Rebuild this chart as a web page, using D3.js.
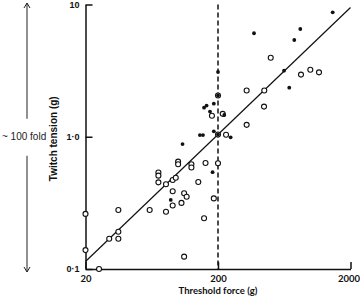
<!DOCTYPE html>
<html><head><meta charset="utf-8">
<script src="https://cdn.jsdelivr.net/npm/d3@7"></script>
<style>html,body{margin:0;padding:0;background:#fff;}svg{display:block;}</style>
</head><body>
<svg id="c" width="360" height="296"></svg>
<script>
// ---- data ----
const filledX = [1468, 374, 836, 753, 630, 690, 200, 186, 157, 164, 174, 146, 154, 186, 200, 249, 108, 182, 88, 200, 223];
const filledY = [8.73, 6.06, 6.53, 5.39, 3.16, 2.35, 3.09, 1.78, 1.66, 1.72, 1.55, 1.03, 1.03, 1.10, 1.04, 0.99, 0.88, 0.54, 0.333, 2.05, 1.46];
const openX = [500, 846, 995, 1157, 329, 447, 445, 329, 180, 217, 200, 200, 230, 100, 100, 126, 126, 161, 200, 142, 186, 71, 71, 71, 81, 91, 96, 91, 111, 116, 91, 106, 81, 157, 61, 35.4, 20, 35.4, 30.2, 35.4, 20, 25.3, 111];
const openY = [3.96, 2.95, 3.21, 3.07, 2.24, 2.24, 1.69, 1.23, 1.44, 1.49, 2.05, 1.04, 1.035, 0.648, 0.619, 0.619, 0.585, 0.633, 0.630, 0.455, 0.342, 0.537, 0.508, 0.452, 0.437, 0.471, 0.490, 0.387, 0.374, 0.352, 0.302, 0.316, 0.271, 0.242, 0.279, 0.279, 0.261, 0.1915, 0.1694, 0.1694, 0.139, 0.1, 0.124];
const fitX = [20, 2000];
const fitY = [0.114, 9.5];
const thresholdLine = 200;
const xTicks = [20, 200, 2000];
const xTickLabels = ["20", "200", "2000"];
const yTicks = [0.1, 1, 10];
const yTickLabels = ["0·1", "1·0", "10"];
const xTitle = "Threshold force (g)";
const yTitle = "Twitch tension (g)";
const foldLabel = "~ 100 fold";

// ---- chart ----
(function () {
const svg = d3.select("#c");
const x = d3.scaleLog().domain([20, 2000]).range([85.5, 350.5]);
const y = d3.scaleLog().domain([0.1, 10]).range([269, 4.5]);
const ink = "#111";

const yAxis = d3.axisLeft(y).tickValues(yTicks).tickSize(-7).tickSizeOuter(0).tickPadding(6)
  .tickFormat((d, i) => yTickLabels[i]);
const gy = svg.append("g").attr("transform", "translate(85.5,0)").call(yAxis);
gy.select(".domain").attr("stroke", ink).attr("stroke-width", 1.5);
gy.selectAll(".tick line").attr("stroke", ink).attr("stroke-width", 1.5);
gy.selectAll(".tick text").attr("fill", ink).style("font-family", "'Liberation Sans', Arial, sans-serif")
  .style("font-weight", "bold").style("font-size", "9px");

const xAxis = d3.axisBottom(x).tickValues(xTicks).tickSize(-7).tickSizeOuter(0).tickPadding(6)
  .tickFormat((d, i) => xTickLabels[i]);
const gx = svg.append("g").attr("transform", "translate(0,269)").call(xAxis);
gx.select(".domain").attr("stroke", ink).attr("stroke-width", 1.5);
gx.selectAll(".tick line").attr("stroke", ink).attr("stroke-width", 1.5);
gx.selectAll(".tick text").attr("fill", ink).style("font-family", "Lato, 'Open Sans', sans-serif")
  .style("font-weight", "bold").style("font-size", "9.5px");
// keep the last label inside the picture
gx.selectAll(".tick text").filter((d, i) => i === xTicks.length - 1)
  .attr("text-anchor", "end").attr("x", 9);

// dashed threshold line
svg.append("line")
  .attr("x1", x(thresholdLine)).attr("x2", x(thresholdLine))
  .attr("y1", y(10)).attr("y2", y(0.1))
  .attr("stroke", ink).attr("stroke-width", 1.5).attr("stroke-dasharray", "5,3");

// regression line
svg.append("line")
  .attr("x1", x(fitX[0])).attr("y1", y(fitY[0]))
  .attr("x2", x(fitX[1])).attr("y2", y(fitY[1]))
  .attr("stroke", ink).attr("stroke-width", 1.2);

// open circles
svg.append("g").selectAll("circle").data(openX.map((d, i) => [d, openY[i]])).join("circle")
  .attr("cx", d => x(d[0])).attr("cy", d => y(d[1])).attr("r", 2.5)
  .attr("fill", "#fff").attr("stroke", ink).attr("stroke-width", 1.1);

// filled dots
svg.append("g").selectAll("circle").data(filledX.map((d, i) => [d, filledY[i]])).join("circle")
  .attr("cx", d => x(d[0])).attr("cy", d => y(d[1])).attr("r", 1.9)
  .attr("fill", ink);

// axis titles
svg.append("text").attr("x", x(200)).attr("y", 293.5).attr("text-anchor", "middle")
  .style("font-family", "Lato, 'Open Sans', sans-serif").style("font-weight", "bold").style("font-size", "9.5px")
  .attr("fill", ink).text(xTitle);
svg.append("text").attr("transform", `translate(56.5,${y(1) + 2}) rotate(-90)`).attr("text-anchor", "middle")
  .style("font-family", "'Liberation Sans', Arial, sans-serif").style("font-weight", "bold").style("font-size", "10px")
  .attr("fill", ink).text(yTitle);

// ~100 fold arrow
const ax = 27;
const yTop = y(10) - 1.5, yBot = y(0.1) + 3, yMid = y(1);
const ag = svg.append("g").attr("stroke", "#222").attr("stroke-width", 1).attr("fill", "none");
ag.append("line").attr("x1", ax).attr("x2", ax).attr("y1", yTop).attr("y2", yMid - 18);
ag.append("line").attr("x1", ax).attr("x2", ax).attr("y1", yMid + 19).attr("y2", yBot);
ag.append("path").attr("d", `M${ax - 3},${yTop + 5}L${ax},${yTop}L${ax + 3},${yTop + 5}`);
ag.append("path").attr("d", `M${ax - 3},${yBot - 5}L${ax},${yBot}L${ax + 3},${yBot - 5}`);
svg.append("text").attr("x", 2).attr("y", yMid + 3.5)
  .style("font-family", "'Liberation Sans', Arial, sans-serif").style("font-size", "10px")
  .attr("fill", "#222").text(foldLabel);
})();
</script>
</body></html>
